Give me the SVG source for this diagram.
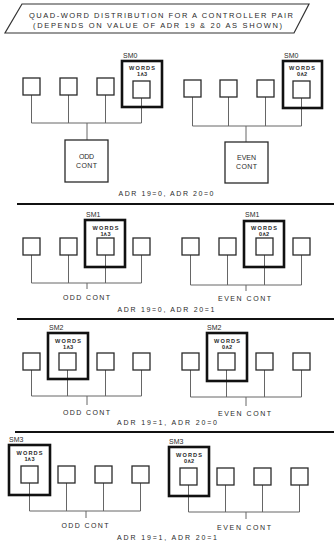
<svg xmlns="http://www.w3.org/2000/svg" width="334" height="541" viewBox="0 0 334 541">
<style>
.bg{fill:#fff}
.sq{fill:none;stroke:#2a2a2a;stroke-width:1.3}
.sm{fill:none;stroke:#111;stroke-width:2.6}
.cb{fill:none;stroke:#2a2a2a;stroke-width:1.3}
.ln{fill:none;stroke:#666;stroke-width:1}
.sep{stroke:#111;stroke-width:2}
.ban{fill:none;stroke:#333;stroke-width:1.2}
text{font-family:"Liberation Sans",Arial,sans-serif;fill:#2a2a2a}
.t{font-size:7px}
.w{font-size:5.6px;font-weight:bold;text-anchor:middle}
.c{font-size:7px;text-anchor:middle}
.h{font-size:7.5px;text-anchor:middle}
</style>
<rect class="bg" width="334" height="541"/>

<g id="title">
<polygon class="ban" points="22,4 309,4 294,33 5,33"/>
<text class="h" x="161" y="18" textLength="264" lengthAdjust="spacing">QUAD-WORD DISTRIBUTION FOR A CONTROLLER PAIR</text>
<text class="h" x="157.5" y="27.5" textLength="249" lengthAdjust="spacing">(DEPENDS ON VALUE OF ADR 19 &amp; 20 AS SHOWN)</text>
</g>

<g id="connectors">
<!-- section 1 left -->
<path class="ln" d="M31.5,95V123M68.5,95V123M105.5,95V123M141.5,98V123M31.5,123H141.5M87,123V140"/>
<!-- section 1 right -->
<path class="ln" d="M192.5,97V126M228.5,97V126M265.5,97V126M301.5,98V126M192.5,126H301.5M246,126V142"/>
<!-- section 2 left -->
<path class="ln" d="M31.5,255V283M68.5,255V283M105.5,255V283M141.5,255V283M31.5,283H141.5M87,283V289"/>
<!-- section 2 right -->
<path class="ln" d="M190.5,255V285M227.5,255V285M264.5,255V285M301.5,255V285M190.5,285H301.5M246,285V291"/>
<!-- section 3 left -->
<path class="ln" d="M31.5,370V396M67.5,370V396M105.5,370V396M141.5,370V396M31.5,396H141.5M87,396V405"/>
<!-- section 3 right -->
<path class="ln" d="M190.5,370V397M226.5,370V397M264.5,370V397M301.5,370V397M190.5,397H301.5M246,397V406"/>
<!-- section 4 left -->
<path class="ln" d="M29.5,483V511M66.5,483V511M103.5,483V511M140.5,483V511M29.5,511H140.5M86,511V518"/>
<!-- section 4 right -->
<path class="ln" d="M188.5,485V512M225.5,485V512M262.5,485V512M299.5,485V512M188.5,512H299.5M246,512V519"/>
</g>

<!-- separators -->
<g id="separators">
<line class="sep" x1="17" y1="204" x2="334" y2="204"/>
<line class="sep" x1="17" y1="319" x2="334" y2="319"/>
<line class="sep" x1="15" y1="432" x2="334" y2="432"/>
</g>

<!-- ===== Section 1 ===== -->
<g id="s1-odd-m1"><rect class="sq" x="23" y="78" width="17" height="17"/></g>
<g id="s1-odd-m2"><rect class="sq" x="60" y="78" width="17" height="17"/></g>
<g id="s1-odd-m3"><rect class="sq" x="97" y="78" width="17" height="17"/></g>
<g id="s1-odd-sm0">
<rect class="sm" x="122" y="61" width="40" height="46"/>
<text class="t" x="123" y="57.5">SM0</text>
<text class="w" x="142" y="69.5" textLength="26" lengthAdjust="spacing">WORDS</text>
<text class="w" x="142" y="75.5">1∧3</text>
<rect class="sq" x="133" y="81" width="17" height="17"/>
</g>
<g id="s1-odd-cont">
<rect class="cb" x="65" y="140" width="43" height="42"/>
<text class="c" x="86.5" y="158.5" textLength="15" lengthAdjust="spacing">ODD</text>
<text class="c" x="86.5" y="168" textLength="21" lengthAdjust="spacing">CONT</text>
</g>

<g id="s1-even-m1"><rect class="sq" x="184" y="80" width="17" height="17"/></g>
<g id="s1-even-m2"><rect class="sq" x="220" y="80" width="17" height="17"/></g>
<g id="s1-even-m3"><rect class="sq" x="257" y="80" width="17" height="17"/></g>
<g id="s1-even-sm0">
<rect class="sm" x="283" y="61" width="39" height="47"/>
<text class="t" x="284" y="57.5">SM0</text>
<text class="w" x="302" y="70" textLength="26" lengthAdjust="spacing">WORDS</text>
<text class="w" x="302" y="76">0∧2</text>
<rect class="sq" x="293" y="81" width="17" height="17"/>
</g>
<g id="s1-even-cont">
<rect class="cb" x="225" y="142" width="43" height="41"/>
<text class="c" x="246.5" y="159.5" textLength="19" lengthAdjust="spacing">EVEN</text>
<text class="c" x="246.5" y="169" textLength="21" lengthAdjust="spacing">CONT</text>
</g>
<g id="s1-label"><text class="c" x="166" y="195.5" textLength="95" lengthAdjust="spacing">ADR 19=0, ADR 20=0</text></g>

<!-- ===== Section 2 ===== -->
<g id="s2-odd-m1"><rect class="sq" x="23" y="238" width="17" height="17"/></g>
<g id="s2-odd-m2"><rect class="sq" x="60" y="238" width="17" height="17"/></g>
<g id="s2-odd-sm1">
<rect class="sm" x="85" y="220" width="40" height="47"/>
<text class="t" x="86" y="216.5">SM1</text>
<text class="w" x="105.5" y="229.5" textLength="26" lengthAdjust="spacing">WORDS</text>
<text class="w" x="105.5" y="235.5">1∧3</text>
<rect class="sq" x="97" y="238" width="17" height="17"/>
</g>
<g id="s2-odd-m4"><rect class="sq" x="133" y="238" width="17" height="17"/></g>
<g id="s2-odd-cont"><text class="c" x="86.5" y="299.5" textLength="47" lengthAdjust="spacing">ODD CONT</text></g>

<g id="s2-even-m1"><rect class="sq" x="182" y="238" width="17" height="17"/></g>
<g id="s2-even-m2"><rect class="sq" x="219" y="238" width="17" height="17"/></g>
<g id="s2-even-sm1">
<rect class="sm" x="244" y="221" width="40" height="46"/>
<text class="t" x="245" y="216.5">SM1</text>
<text class="w" x="264" y="230" textLength="26" lengthAdjust="spacing">WORDS</text>
<text class="w" x="264" y="236">0∧2</text>
<rect class="sq" x="256" y="238" width="17" height="17"/>
</g>
<g id="s2-even-m4"><rect class="sq" x="293" y="238" width="17" height="17"/></g>
<g id="s2-even-cont"><text class="c" x="244.5" y="300.5" textLength="53" lengthAdjust="spacing">EVEN CONT</text></g>
<g id="s2-label"><text class="c" x="166" y="311.5" textLength="97" lengthAdjust="spacing">ADR 19=0, ADR 20=1</text></g>

<!-- ===== Section 3 ===== -->
<g id="s3-odd-m1"><rect class="sq" x="23" y="353" width="17" height="17"/></g>
<g id="s3-odd-sm2">
<rect class="sm" x="48" y="333" width="40" height="46"/>
<text class="t" x="49" y="329.5">SM2</text>
<text class="w" x="68" y="342.5" textLength="26" lengthAdjust="spacing">WORDS</text>
<text class="w" x="68" y="348.5">1∧3</text>
<rect class="sq" x="59" y="353" width="17" height="17"/>
</g>
<g id="s3-odd-m3"><rect class="sq" x="97" y="353" width="17" height="17"/></g>
<g id="s3-odd-m4"><rect class="sq" x="133" y="353" width="17" height="17"/></g>
<g id="s3-odd-cont"><text class="c" x="86.5" y="414.5" textLength="47" lengthAdjust="spacing">ODD CONT</text></g>

<g id="s3-even-m1"><rect class="sq" x="182" y="353" width="17" height="17"/></g>
<g id="s3-even-sm2">
<rect class="sm" x="207" y="333" width="40" height="48"/>
<text class="t" x="207" y="329.5">SM2</text>
<text class="w" x="227" y="342.5" textLength="26" lengthAdjust="spacing">WORDS</text>
<text class="w" x="227" y="348.5">0∧2</text>
<rect class="sq" x="218" y="353" width="17" height="17"/>
</g>
<g id="s3-even-m3"><rect class="sq" x="256" y="353" width="17" height="17"/></g>
<g id="s3-even-m4"><rect class="sq" x="293" y="353" width="17" height="17"/></g>
<g id="s3-even-cont"><text class="c" x="244.5" y="415.5" textLength="53" lengthAdjust="spacing">EVEN CONT</text></g>
<g id="s3-label"><text class="c" x="167" y="424.5" textLength="100" lengthAdjust="spacing">ADR 19=1, ADR 20=0</text></g>

<!-- ===== Section 4 ===== -->
<g id="s4-odd-sm3">
<rect class="sm" x="9" y="445" width="41" height="50"/>
<text class="t" x="9" y="441.5">SM3</text>
<text class="w" x="29.5" y="455" textLength="26" lengthAdjust="spacing">WORDS</text>
<text class="w" x="29.5" y="461">1∧3</text>
<rect class="sq" x="21" y="466" width="17" height="17"/>
</g>
<g id="s4-odd-m2"><rect class="sq" x="58" y="466" width="17" height="17"/></g>
<g id="s4-odd-m3"><rect class="sq" x="95" y="466" width="17" height="17"/></g>
<g id="s4-odd-m4"><rect class="sq" x="132" y="466" width="17" height="17"/></g>
<g id="s4-odd-cont"><text class="c" x="85" y="527.5" textLength="47" lengthAdjust="spacing">ODD CONT</text></g>

<g id="s4-even-sm3">
<rect class="sm" x="169" y="447" width="40" height="49"/>
<text class="t" x="169" y="444">SM3</text>
<text class="w" x="189" y="457" textLength="26" lengthAdjust="spacing">WORDS</text>
<text class="w" x="189" y="463">0∧2</text>
<rect class="sq" x="180" y="468" width="17" height="17"/>
</g>
<g id="s4-even-m2"><rect class="sq" x="217" y="468" width="17" height="17"/></g>
<g id="s4-even-m3"><rect class="sq" x="254" y="468" width="17" height="17"/></g>
<g id="s4-even-m4"><rect class="sq" x="291" y="468" width="17" height="17"/></g>
<g id="s4-even-cont"><text class="c" x="244" y="529.5" textLength="54" lengthAdjust="spacing">EVEN CONT</text></g>
<g id="s4-label"><text class="c" x="167" y="539.5" textLength="100" lengthAdjust="spacing">ADR 19=1, ADR 20=1</text></g>
</svg>
